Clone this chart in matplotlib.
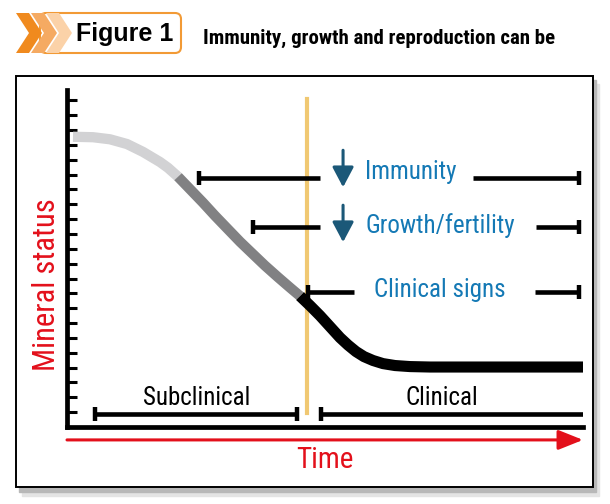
import numpy as np
import matplotlib
matplotlib.use('Agg')
from matplotlib import pyplot as plt
from matplotlib.patches import Polygon, FancyBboxPatch, Rectangle

# mineral status curve (time, status), split by shade
light_t = [1.16, 5.04, 8.33, 11.63, 14.73, 18.02, 19.57, 21.51]
light_s = [19.55, 19.52, 19.38, 19.06, 18.53, 17.85, 17.46, 16.86]
grey_t = [21.51, 23.84, 26.36, 28.68, 31.20, 33.53, 36.05, 38.37, 40.89, 43.22, 45.16]
grey_s = [16.86, 16.02, 15.11, 14.23, 13.32, 12.48, 11.64, 10.87, 10.09, 9.39, 8.82]
black_t = [45.16, 47.09, 49.03, 50.97, 52.91, 54.46, 56.01, 57.56, 59.30, 61.24, 63.57, 66.47, 70.35, 100]
black_s = [8.82, 8.18, 7.50, 6.76, 6.02, 5.52, 5.08, 4.74, 4.48, 4.27, 4.14, 4.07, 4.04, 4.04]

# effect brackets
effects = ['Immunity', 'Growth/fertility', 'Clinical signs']
effect_level = [16.76, 13.46, 9.08]
left_start = [25.6, 36.0, 46.7]
left_end = [49.0, 49.0, 55.6]
right_start = [78.7, 90.9, 90.7]
right_end = [99.2, 99.2, 99.2]
label_t = [57.8, 57.8, 59.5]
label_s = [17.15, 13.6, 9.2]
arrow_t = [53.5, 53.5]
arrow_top = [18.64, 14.94]
arrow_bottom = [16.15, 12.45]

# phases along the time axis
phases = ['Subclinical', 'Clinical']
phase_start = [5.4, 49.2]
phase_end = [44.6, 100]
phase_level = 0.87
phase_label_t = [25.2, 72.7]
onset_t = 46.5
yticks = np.arange(1, 23)

red = '#e3101b'
blue = '#1479b5'
teal = '#1b5878'
narrow = ['Roboto Condensed', 'Liberation Sans Narrow', 'Roboto']

fig = plt.figure(figsize=(6.1, 5.04), dpi=100)

# frame and header drawn in pixel space
bg = fig.add_axes([0, 0, 1, 1])
bg.set_xlim(0, 610)
bg.set_ylim(504, 0)
bg.axis('off')
bg.add_patch(Rectangle((22, 84), 577, 412, color='#e4e4e4', zorder=1))
bg.add_patch(Rectangle((19, 80), 577, 412, color='#b8b8b8', zorder=2))
bg.add_patch(Rectangle((16, 76), 577, 411, facecolor='white', edgecolor='black', lw=1.4, zorder=3))
bg.add_patch(FancyBboxPatch((40, 13), 141, 40, boxstyle='round,pad=0,rounding_size=6',
                            facecolor='white', edgecolor='#f29a35', lw=1.5, zorder=3))
for x0, c in zip([16, 31, 46], ['#f08a1e', '#f5aa62', '#fbd2a8']):
    bg.add_patch(Polygon([(x0, 13), (x0 + 13, 13), (x0 + 26, 33), (x0 + 13, 53),
                          (x0, 53), (x0 + 13, 33)], closed=True, color=c, lw=0, zorder=4))
bg.text(125, 34, 'Figure 1', ha='center', va='center', fontsize=18, fontweight='bold',
        family=['Liberation Sans', 'DejaVu Sans'], zorder=5)
bg.text(203, 38, 'Immunity, growth and reproduction can be', ha='left', va='center',
        fontsize=15, fontweight='black', family=narrow, zorder=5)

# chart
ax = fig.add_axes([67 / 610, 1 - 427 / 504, 516 / 610, 337 / 504])
ax.patch.set_alpha(0)
ax.set_xlim(0, 100)
ax.set_ylim(0, 22.7)
for side in ['top', 'right']:
    ax.spines[side].set_visible(False)
for side in ['left', 'bottom']:
    ax.spines[side].set_linewidth(3.4)
    ax.spines[side].set_capstyle('projecting')
ax.set_xticks([])
ax.set_yticks(yticks)
ax.tick_params(axis='y', direction='in', length=7.5, width=2.2, labelleft=False)

ax.plot(light_t, light_s, color='#d2d2d4', lw=7.4, solid_capstyle='butt', solid_joinstyle='round')
ax.plot(grey_t, grey_s, color='#818183', lw=7.4, solid_capstyle='butt', solid_joinstyle='round')
ax.plot(black_t, black_s, color='black', lw=8, solid_capstyle='butt', solid_joinstyle='round')

ax.plot([onset_t, onset_t], [phase_level + 0.07, 22.1], color='#f0c872', lw=3, zorder=1)

for i, name in enumerate(effects):
    y = effect_level[i]
    ax.plot([left_start[i], left_end[i]], [y, y], color='black', lw=3.3, solid_capstyle='butt')
    ax.plot([right_start[i], right_end[i]], [y, y], color='black', lw=3.3, solid_capstyle='butt')
    ax.plot([left_start[i], right_end[i]], [y, y], ls='none', marker='|', ms=10, mew=3.2, color='black')
    ax.text(label_t[i], label_s[i], name, ha='left', va='center', color=blue, fontsize=18,
            family=narrow)

for t, top, bot in zip(arrow_t, arrow_top, arrow_bottom):
    ax.annotate('', xy=(t, bot), xytext=(t, top),
                arrowprops=dict(arrowstyle='-|>,head_length=0.68,head_width=0.36', lw=2.2,
                                color=teal, mutation_scale=18, shrinkA=0, shrinkB=0))

for i, name in enumerate(phases):
    ax.plot([phase_start[i], phase_end[i]], [phase_level, phase_level], color='black', lw=3.3,
            solid_capstyle='butt')
    caps = [phase_start[i], phase_end[i]] if i == 0 else [phase_start[i]]
    ax.plot(caps, [phase_level] * len(caps), ls='none', marker='|', ms=10, mew=3.2, color='black')
    ax.text(phase_label_t[i], phase_level + 1.1, name, ha='center', va='center', fontsize=18,
            family=narrow)

ax.annotate('', xy=(100, -0.87), xytext=(0, -0.87), annotation_clip=False,
            arrowprops=dict(arrowstyle='-|>,head_length=0.75,head_width=0.3', lw=2.2, color=red,
                            mutation_scale=20, shrinkA=0, shrinkB=0))
ax.text(50, -2.2, 'Time', ha='center', va='center', color=red, fontsize=21, family=narrow)
ax.text(-3.9, 9.6, 'Mineral status', ha='center', va='center', rotation=90, color=red,
        fontsize=22, family=narrow)

fig.savefig('out.png', dpi=100, facecolor='white')
